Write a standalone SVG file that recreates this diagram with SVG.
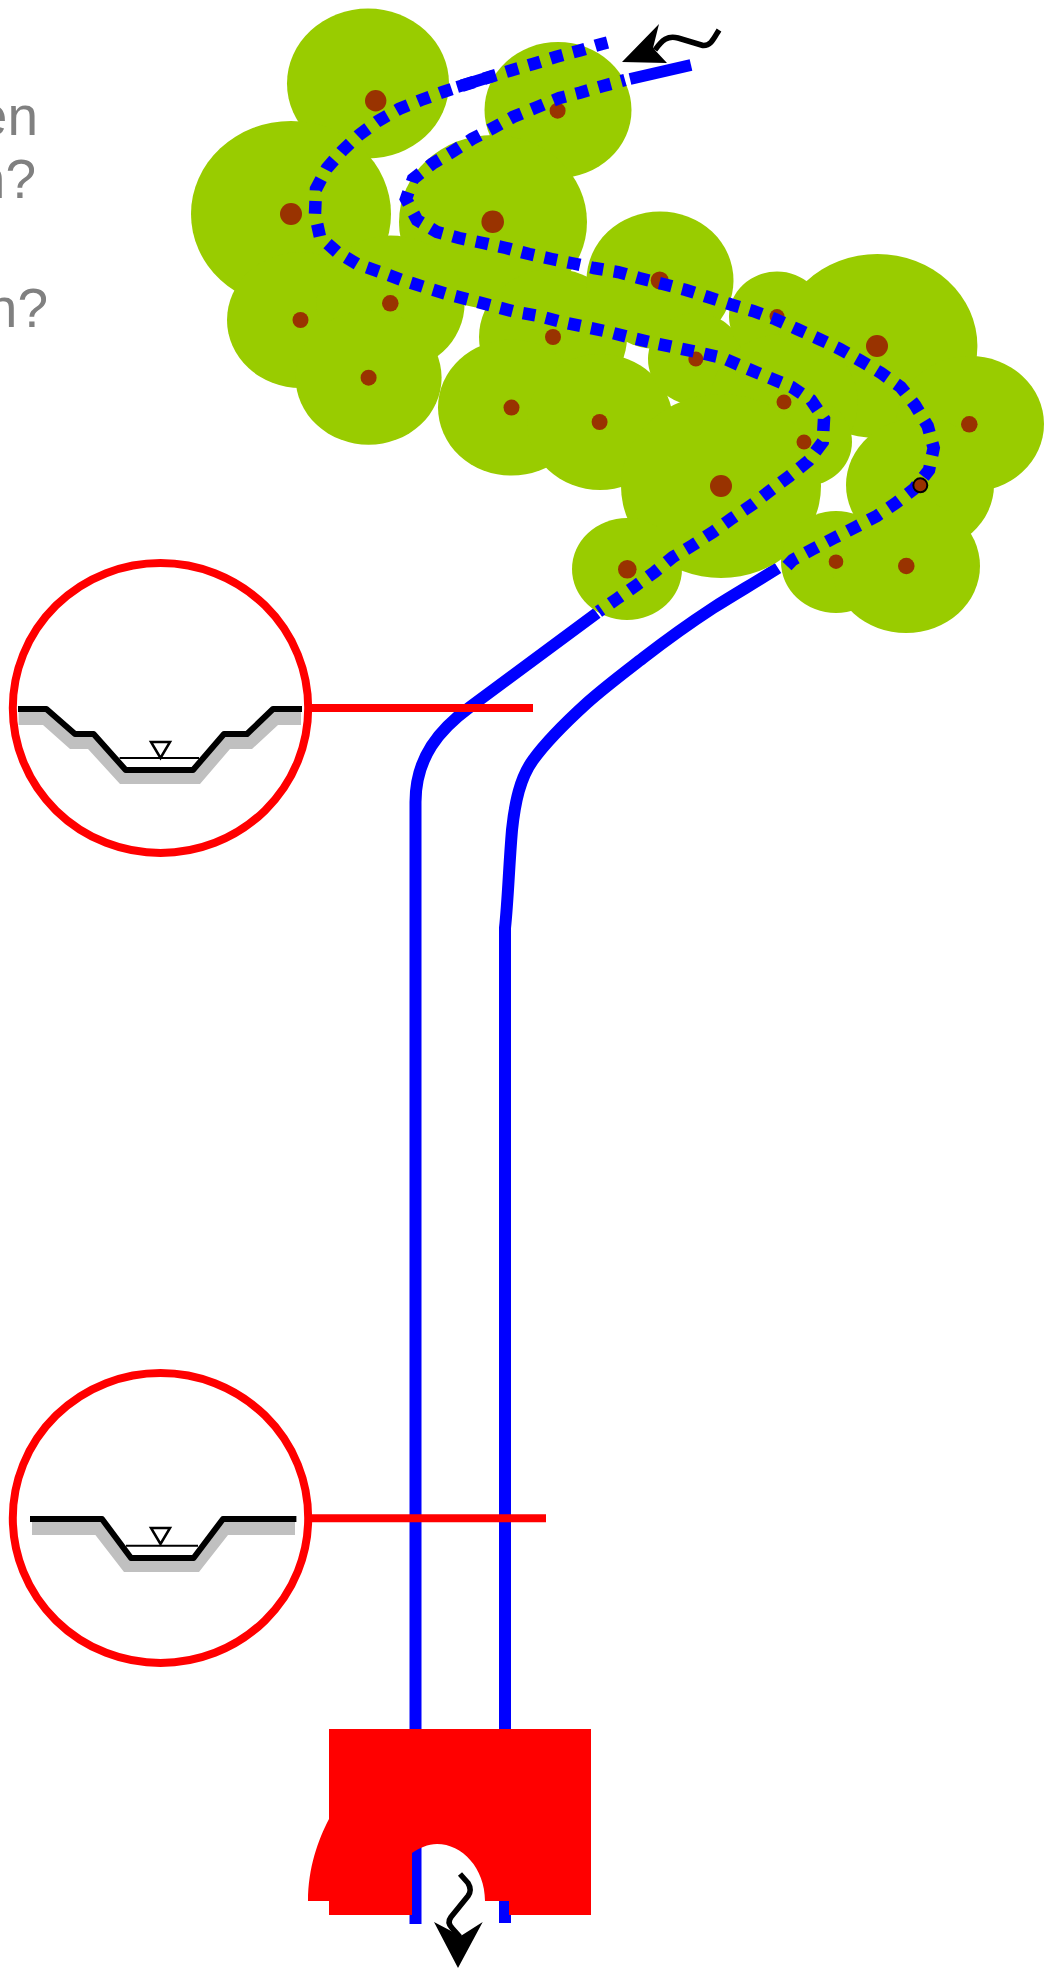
<svg xmlns="http://www.w3.org/2000/svg" width="1047" height="1968" viewBox="0 0 1047 1968">
<style>
.g{fill:#99cc00}
.d{fill:#993300}
.river{fill:none;stroke:#0000ff;stroke-width:12}
.dash{stroke-dasharray:13 11;stroke-width:12.5}
.lens{fill:none;stroke:#ff0000;stroke-width:8}
.pro{fill:none;stroke:#000;stroke-width:6;stroke-linejoin:round}
.bed{fill:#c0c0c0}
.wat{fill:none;stroke:#000;stroke-width:2}
.tri{fill:#fff;stroke:#000;stroke-width:2.5}
.flow{fill:none;stroke:#000;stroke-width:5.5;stroke-linejoin:round}
.lbl{font-family:"Liberation Sans",Arial,sans-serif;font-size:55px;fill:#808080;text-anchor:end}
</style>
<rect width="1047" height="1968" fill="#fff"/>
<g id="labels">
<text class="lbl" x="38" y="135">en</text>
<text class="lbl" x="36" y="198">n?</text>
<text class="lbl" x="48" y="327">n?</text>
</g>
<g id="connectors-solid">
<path class="river" d="M597 613L470 707C440 729 415.5 757 415.5 802V1924"/>
<path class="river" d="M778 568C756 582 735 594 713 608C690 623 665 641 643 658C625 672 605 687 587 703C565 723 546 742 533 760C520 778 515 802 512 830C509 865 508 900 505 928V1923"/>
<path class="river" d="M691 65L630 79"/>
</g>
<g id="forest">
<ellipse class="g" cx="368" cy="83.5" rx="81" ry="75"/>
<ellipse class="g" cx="291" cy="214" rx="100" ry="93"/>
<ellipse class="g" cx="558" cy="110" rx="73.5" ry="68"/>
<ellipse class="g" cx="493" cy="222" rx="94" ry="87"/>
<ellipse class="g" cx="300.5" cy="320" rx="73.5" ry="68"/>
<ellipse class="g" cx="390.6" cy="303.6" rx="74" ry="68"/>
<ellipse class="g" cx="368.6" cy="377.7" rx="73" ry="67"/>
<ellipse class="g" cx="553" cy="337" rx="74" ry="68"/>
<ellipse class="g" cx="511.5" cy="407.6" rx="73.5" ry="68"/>
<ellipse class="g" cx="600" cy="422" rx="73" ry="68"/>
<ellipse class="g" cx="660" cy="280.4" rx="73.5" ry="69"/>
<ellipse class="g" cx="696" cy="359" rx="48" ry="46"/>
<ellipse class="g" cx="777" cy="316.5" rx="48" ry="45"/>
<ellipse class="g" cx="877.4" cy="346" rx="100" ry="92"/>
<ellipse class="g" cx="784" cy="402" rx="74" ry="68"/>
<ellipse class="g" cx="805" cy="442" rx="47" ry="44"/>
<ellipse class="g" cx="721" cy="486" rx="100" ry="92"/>
<ellipse class="g" cx="627" cy="569" rx="55" ry="51"/>
<ellipse class="g" cx="970" cy="424" rx="74" ry="68"/>
<ellipse class="g" cx="920" cy="485" rx="74" ry="67"/>
<ellipse class="g" cx="836" cy="562" rx="55" ry="51"/>
<ellipse class="g" cx="906" cy="566" rx="74" ry="67"/>
<circle class="d" cx="375.7" cy="100.7" r="10.7"/>
<circle class="d" cx="291" cy="214" r="11"/>
<circle class="d" cx="492.7" cy="221.7" r="11.3"/>
<circle class="d" cx="877" cy="346" r="11"/>
<circle class="d" cx="721" cy="486" r="11"/>
<circle class="d" cx="557.6" cy="110.7" r="8"/>
<circle class="d" cx="300.5" cy="320" r="8"/>
<circle class="d" cx="390.3" cy="303.3" r="8.3"/>
<circle class="d" cx="368.6" cy="377.7" r="8"/>
<circle class="d" cx="553" cy="337" r="8"/>
<circle class="d" cx="511.5" cy="407.6" r="8"/>
<circle class="d" cx="599.6" cy="422" r="8"/>
<circle class="d" cx="659.7" cy="280.4" r="9"/>
<circle class="d" cx="695.8" cy="359" r="7.5"/>
<circle class="d" cx="777" cy="316.5" r="7.5"/>
<circle class="d" cx="784" cy="402" r="7.5"/>
<circle class="d" cx="804" cy="442" r="7.5"/>
<circle class="d" cx="627.3" cy="569.3" r="9.3"/>
<circle class="d" cx="969.3" cy="424.3" r="8.3"/>
<circle class="d" cx="836" cy="561.7" r="7.3"/>
<circle class="d" cx="906.3" cy="566" r="8.3"/>
</g>
<g id="connectors-dashed">
<path class="river" d="M457.2 87L493.7 75.8"/>
<path class="river dash" pathLength="1276" d="M607.5 42.5L601.7 44L579 50.7L555.5 57L533 64L510 70.7L484 78.7L461 86L443 92L421 100L399 109L378 121L359 135L342 151L327 168L316 189L315 214L320 237L337 252L357 264L380 272L402 280L424 287L447 294L470 300L493 306L516 312L539 316L562 322L586 327L609 332L632 338L654 343L678 348L701 353L723 358L746 368L770 378L791.7 387L811 400L824 419L822.7 442L808.7 460.7L790 475.7L771 490L752.5 504.5L732.5 518L713 532L693 545L673 557L655 571.7L635.7 585.7L616.7 599L598.5 611.7"/>
<path class="river dash" pathLength="1084" stroke-dashoffset="9" d="M625 80L603 86L580 92.7L559.5 98L535 108L513 117L493 128L472 139L452 152L432 164L413 179L406 199L417 220L437 232L459 238L483 243L506 248L529 254L551.6 259L571 263L594 268L618 272L639 278L661 283.5L686 290L708 297L731 304.5L753 311L775 319L797 329L819 339L840 349L861 361L881 373L900.7 387L915 405L927.7 426L933.7 448L929 470L914 489L896 503L876.7 516L855.7 527L834 538L813 549L792.7 560L787 566"/>
</g>
<circle id="gauge-dot" class="d" cx="920.3" cy="485.3" r="7" stroke="#000" stroke-width="2"/>
<g id="section-upper">
<ellipse class="lens" cx="160.5" cy="708" rx="147.7" ry="145"/>
<path class="lens" d="M312 708H533"/>
<path class="bed" d="M18.6 709H46.4L75 734H93.6L125.7 770H193L224 734H247L273 709H301V725H278L252 749H230L200 784H120L88 749H70L43 725H18.6Z"/>
<path d="M121 760L127 768H192L198 760Z" fill="#fff"/>
<path class="wat" d="M119.6 758H199"/>
<path class="tri" d="M151 742H170L160.5 758Z"/>
<path class="pro" d="M18 709H46.4L75 734H93.6L125.7 770H193L224 734H247L273 709H302"/>
</g>
<g id="section-lower">
<ellipse class="lens" cx="160.5" cy="1518" rx="147.7" ry="145"/>
<path class="lens" d="M312 1518.3H546"/>
<path class="bed" d="M32 1519H102L131 1558H193.6L223 1519H295V1535H228L199 1572H124L95.4 1535H32Z"/>
<path d="M127 1546H197L189 1556H135Z" fill="#fff"/>
<path class="wat" d="M126 1545.7H198"/>
<path class="tri" d="M151 1528H170L160.5 1544Z"/>
<path class="pro" d="M30 1519H102L131 1558H193.6L223 1519H296.4"/>
</g>
<g id="outlet">
<path fill="#ff0000" d="M329 1729H591V1915H509V1901H485C485 1868 462 1844 437 1844C428 1844 419 1848 412 1853V1915H329V1901H308C308 1868 318 1840 329 1819Z"/>
</g>
<g id="inflow-arrow">
<path class="flow" d="M719 30C714 38 711 46 703 45.5L678 38C668 35 662 40 655 50"/>
<path d="M659 24L653 48L667 63L622 62Z"/>
</g>
<g id="outflow-arrow">
<path class="flow" d="M460 1874L468 1883C471 1888 471 1892 468 1896L451 1917C448 1921 449 1925 452 1928L460 1937"/>
<path d="M434 1922L460.7 1936L482.7 1922L458 1968Z"/>
</g>
</svg>
